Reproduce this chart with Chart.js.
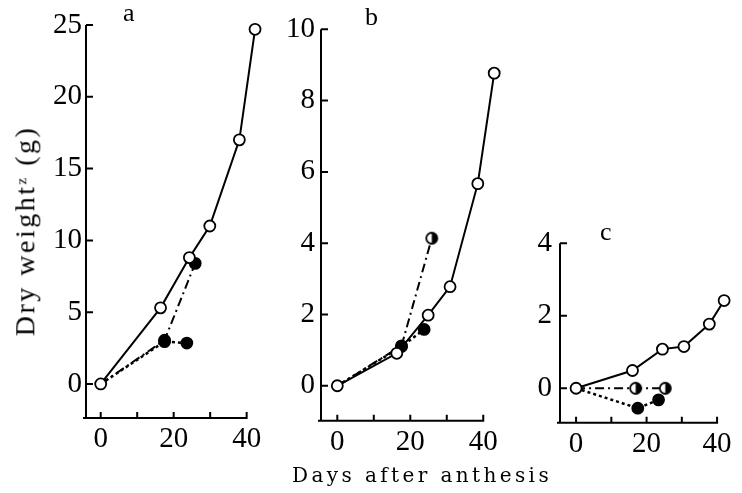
<!DOCTYPE html>
<html><head><meta charset="utf-8">
<script src="https://cdn.jsdelivr.net/npm/chart.js@4/dist/chart.umd.min.js"></script>
<style>
html,body{margin:0;padding:0;background:#fff;}
#wrap{position:relative;width:742px;height:493px;overflow:hidden;background:#fff;}
#wrap canvas{position:absolute;left:0;top:0;}
.t{position:absolute;color:#000;white-space:nowrap;}
#ytitle{font-family:"Liberation Serif",serif;font-size:28px;letter-spacing:2.5px;line-height:28px;transform-origin:center center;}
#ytitle sup{font-size:15px;vertical-align:top;position:relative;top:-4px;}
#xtitle{font-family:"DejaVu Serif",serif;font-size:20px;letter-spacing:3.4px;line-height:20px;}
.pl{font-family:"Liberation Serif",serif;font-size:26px;line-height:26px;}
</style></head><body>
<div id="wrap">
<canvas id="ca" width="742" height="493"></canvas>
<canvas id="cb" width="742" height="493"></canvas>
<canvas id="cc" width="742" height="493"></canvas>
<div class="t" id="ytitle">Dry weight<sup>z</sup> (g)</div>
<div class="t" id="xtitle">Days after anthesis</div>
<div class="t pl" id="la">a</div>
<div class="t pl" id="lb">b</div>
<div class="t pl" id="lc">c</div>
</div>
<script>
// ---------- data ----------
const panelLabels = ['a', 'b', 'c'];
const xTickLabels = [0, 20, 40];

// panel a
const daysA_open = [0, 16.4, 24.3, 29.9, 38.0, 42.3];
const weightA_open = [0, 5.3, 8.8, 11.0, 17.0, 24.7];
const daysA_dashdot = [0, 17.5, 25.9];
const weightA_dashdot = [0, 3.05, 8.4];
const markA_dashdot = ['none', 'filled', 'filled'];
const daysA_dotted = [0, 17.5, 23.6];
const weightA_dotted = [0, 2.95, 2.85];
const markA_dotted = ['none', 'filled', 'filled'];
const yTicksA = [0, 5, 10, 15, 20, 25];

// panel b
const daysB_open = [0, 16.3, 24.9, 30.9, 38.5, 43.0];
const weightB_open = [0, 0.91, 1.98, 2.78, 5.67, 8.77];
const daysB_dashdot = [0, 17.6, 25.9];
const weightB_dashdot = [0, 1.12, 4.14];
const markB_dashdot = ['none', 'filled', 'half'];
const daysB_dotted = [0, 17.6, 23.8];
const weightB_dotted = [0, 1.1, 1.58];
const markB_dotted = ['none', 'filled', 'filled'];
const yTicksB = [0, 2, 4, 6, 8, 10];

// panel c
const daysC_open = [0, 16.0, 24.5, 30.6, 37.8, 42.0];
const weightC_open = [0, 0.49, 1.08, 1.15, 1.77, 2.42];
const daysC_dashdot = [0, 16.9, 25.3];
const weightC_dashdot = [0, 0, 0];
const markC_dashdot = ['none', 'half', 'half'];
const daysC_dotted = [0, 17.5, 23.4];
const weightC_dotted = [0, -0.55, -0.32];
const markC_dotted = ['none', 'filled', 'filled'];
const yTicksC = [0, 2, 4];

// ---------- helpers ----------
const R = 5.5, PBW = 1.8;
function makeHalf(r, lw) {
  const s = Math.ceil(2 * r + lw + 2);
  const c = document.createElement('canvas');
  c.width = s; c.height = s;
  const g = c.getContext('2d');
  const cx = s / 2;
  g.beginPath(); g.arc(cx, cx, r, 0, Math.PI * 2); g.fillStyle = '#fff'; g.fill();
  g.beginPath(); g.moveTo(cx, cx - r); g.arc(cx, cx, r, -Math.PI / 2, Math.PI / 2); g.closePath();
  g.fillStyle = '#000'; g.fill();
  g.beginPath(); g.arc(cx, cx, r, 0, Math.PI * 2); g.lineWidth = lw; g.strokeStyle = '#000'; g.stroke();
  return c;
}
const halfImg = makeHalf(R, PBW);

function pts(xs, ys) { return xs.map((d, i) => ({ x: d, y: ys[i] })); }

function openSeries(xs, ys) {
  return {
    data: pts(xs, ys), borderColor: '#000', borderWidth: 2, borderDash: [],
    pointRadius: R, pointBorderWidth: PBW, pointBackgroundColor: '#fff', pointBorderColor: '#000',
    pointStyle: 'circle', tension: 0, fill: false, clip: false
  };
}
function markedSeries(xs, ys, marks, dash, width) {
  return {
    data: pts(xs, ys), borderColor: '#000', borderWidth: width, borderDash: dash,
    pointRadius: marks.map(m => m === 'none' ? 0 : R),
    pointBorderWidth: PBW,
    pointBackgroundColor: marks.map(m => m === 'open' ? '#fff' : '#000'),
    pointBorderColor: '#000',
    pointStyle: marks.map(m => m === 'half' ? halfImg : 'circle'),
    tension: 0, fill: false, clip: false
  };
}

const axesPlugin = {
  id: 'axesPlugin',
  beforeDatasetsDraw(chart, args, opts) {
    const { ctx, chartArea, scales: { x, y } } = chart;
    const xEnd = x.getPixelForValue(opts.xAxisEnd);
    ctx.save();
    ctx.strokeStyle = '#000'; ctx.lineWidth = 2; ctx.setLineDash([]);
    ctx.beginPath();
    ctx.moveTo(chartArea.left, chartArea.top);
    ctx.lineTo(chartArea.left, chartArea.bottom);
    ctx.moveTo(chartArea.left - 3, chartArea.bottom);
    ctx.lineTo(xEnd + 1, chartArea.bottom);
    y.ticks.forEach(t => { const py = y.getPixelForValue(t.value); ctx.moveTo(chartArea.left, py); ctx.lineTo(chartArea.left + 7, py); });
    x.ticks.forEach(t => { const px = x.getPixelForValue(t.value); ctx.moveTo(px, chartArea.bottom); ctx.lineTo(px, chartArea.bottom - 6); });
    ctx.stroke();
    ctx.restore();
  }
};

const Y_W = 60, X_H = 45;
function makeChart(id, L, datasets, yTicks, yStep) {
  const xMax = 45;
  const yMax = yTicks[yTicks.length - 1];
  return new Chart(document.getElementById(id), {
    type: 'line',
    data: { datasets },
    plugins: [axesPlugin],
    options: {
      responsive: false, animation: false, devicePixelRatio: 1,
      layout: { padding: { left: L.left - Y_W, right: 742 - L.right, top: L.top, bottom: 493 - L.bottom - X_H } },
      plugins: { legend: { display: false }, tooltip: { enabled: false }, axesPlugin: { xAxisEnd: 40 } },
      scales: {
        x: {
          type: 'linear', min: L.xMin, max: xMax,
          grid: { display: false, drawTicks: false }, border: { display: false },
          afterFit: s => { s.height = X_H; },
          ticks: {
            stepSize: 10, includeBounds: false, autoSkip: false, maxRotation: 0, padding: 4,
            color: '#000', font: { family: 'Liberation Serif', size: 29 },
            callback: v => xTickLabels.includes(v) ? String(v) : ''
          }
        },
        y: {
          type: 'linear', min: L.yMin, max: yMax,
          grid: { display: false, drawTicks: false }, border: { display: false },
          afterFit: s => { s.width = Y_W; },
          ticks: {
            stepSize: yStep, includeBounds: false, padding: L.tickPad,
            color: '#000', font: { family: 'Liberation Serif', size: 29 },
            callback: v => yTicks.includes(v) ? String(v) : ''
          }
        }
      }
    }
  });
}

// layout of each panel (pixel placement of axis box)
const layA = { left: 86, right: 264.9, top: 25, bottom: 418, xMin: -4.03, yMin: -2.37, tickPad: 4 };
const layB = { left: 321, right: 501.5, top: 29.3, bottom: 420.7, xMin: -4.47, yMin: -0.98, tickPad: 6 };
const layC = { left: 560, right: 741.6, top: 243.3, bottom: 422.7, xMin: -4.56, yMin: -0.95, tickPad: 8 };

const DASHDOT = [9, 4, 2, 4], DOTTED = [3, 3];

makeChart('ca', layA, [
  openSeries(daysA_open, weightA_open),
  markedSeries(daysA_dashdot, weightA_dashdot, markA_dashdot, DASHDOT, 2),
  markedSeries(daysA_dotted, weightA_dotted, markA_dotted, DOTTED, 2.5)
], yTicksA, 5);
makeChart('cb', layB, [
  openSeries(daysB_open, weightB_open),
  markedSeries(daysB_dashdot, weightB_dashdot, markB_dashdot, DASHDOT, 2),
  markedSeries(daysB_dotted, weightB_dotted, markB_dotted, DOTTED, 2.5)
], yTicksB, 2);
makeChart('cc', layC, [
  openSeries(daysC_open, weightC_open),
  markedSeries(daysC_dashdot, weightC_dashdot, markC_dashdot, DASHDOT, 2),
  markedSeries(daysC_dotted, weightC_dotted, markC_dotted, DOTTED, 2.5)
], yTicksC, 2);

// titles and panel letters
const yt = document.getElementById('ytitle');
const w = yt.offsetWidth, h = yt.offsetHeight;
yt.style.left = (25 - w / 2) + 'px';
yt.style.top = (231 - h / 2) + 'px';
yt.style.transform = 'rotate(-90deg)';

const xt = document.getElementById('xtitle');
xt.style.left = (420 - xt.offsetWidth / 2 + 2) + 'px';
xt.style.top = '465px';

const letterPos = [[123, 0], [365, 4], [600, 219]];
['la', 'lb', 'lc'].forEach((id, i) => {
  const el = document.getElementById(id);
  el.textContent = panelLabels[i];
  el.style.left = letterPos[i][0] + 'px';
  el.style.top = letterPos[i][1] + 'px';
});
</script>
</body></html>
